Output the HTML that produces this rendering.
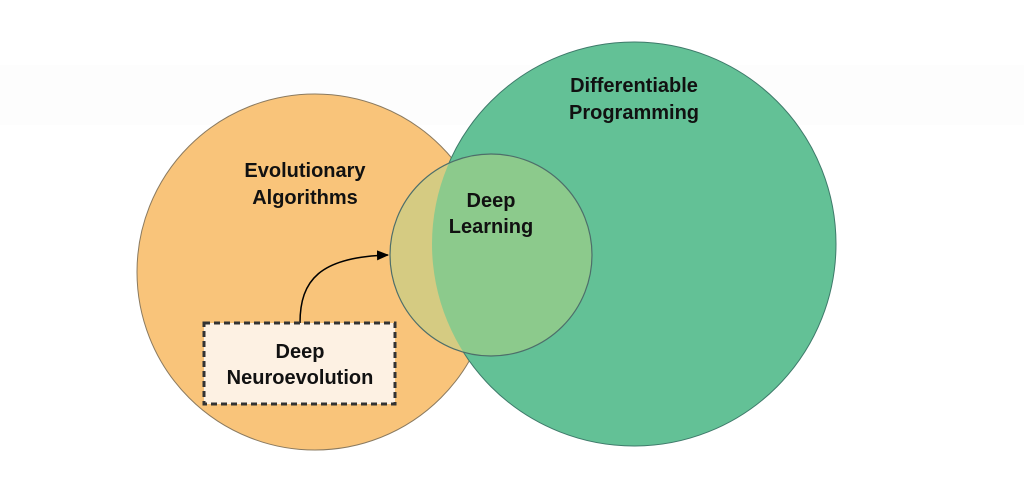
<!DOCTYPE html>
<html><head><style>
html,body{margin:0;padding:0;background:#fff;}
svg text{font-family:"Liberation Sans",sans-serif;font-weight:bold;font-size:20px;fill:#111;text-anchor:middle;}
</style></head><body>
<svg width="1024" height="489" viewBox="0 0 1024 489" xmlns="http://www.w3.org/2000/svg">
<defs>
<clipPath id="g"><circle cx="634" cy="244" r="202"/></clipPath>
<marker id="a" markerWidth="12" markerHeight="10" refX="11" refY="5" orient="auto" markerUnits="userSpaceOnUse"><path d="M0,0 L12,5 L0,10 z" fill="#000"/></marker>
</defs>
<rect x="0" y="65" width="1024" height="60" fill="#fdfdfd"/>
<circle cx="315" cy="272" r="178" fill="#f9c47a" stroke="#8a7a60" stroke-width="1"/>
<circle cx="634" cy="244" r="202" fill="#63c196" stroke="#3e7a6a" stroke-width="1"/>
<circle cx="491" cy="255" r="101" fill="#d5cb82"/>
<circle cx="491" cy="255" r="101" fill="#8cca8c" clip-path="url(#g)"/>
<circle cx="491" cy="255" r="101" fill="none" stroke="#4d6e6a" stroke-width="1.2"/>
<path d="M300,323 C300,280 320,257 388,255" fill="none" stroke="#000" stroke-width="1.5" marker-end="url(#a)"/>
<rect x="204" y="323" width="191" height="81" fill="#fdf1e3" stroke="#333" stroke-width="3" stroke-dasharray="6,4"/>
<text x="305" y="177">Evolutionary</text>
<text x="305" y="204">Algorithms</text>
<text x="634" y="92">Differentiable</text>
<text x="634" y="119">Programming</text>
<text x="491" y="207">Deep</text>
<text x="491" y="233">Learning</text>
<text x="300" y="358">Deep</text>
<text x="300" y="384">Neuroevolution</text>
</svg>
</body></html>
